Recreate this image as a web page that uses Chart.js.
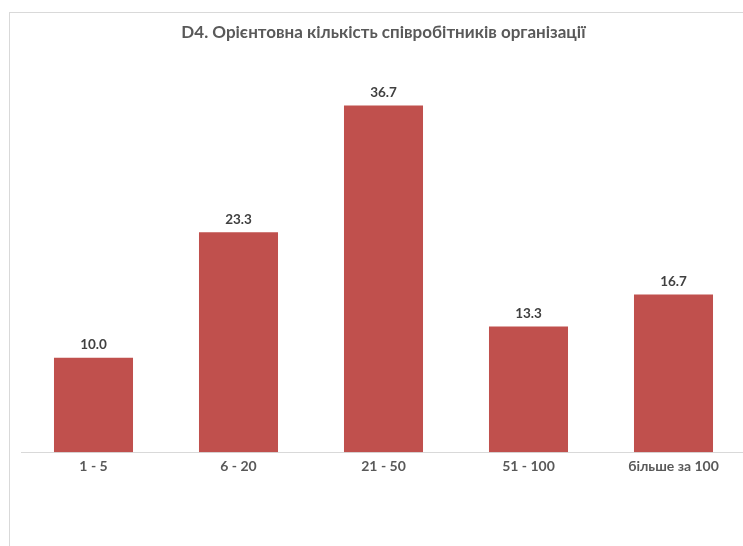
<!DOCTYPE html>
<html>
<head>
<meta charset="utf-8">
<script src="https://cdn.jsdelivr.net/npm/chart.js@4.4.0/dist/chart.umd.min.js"></script>
<style>
    html, body { margin: 0; padding: 0; background: #fff; overflow: hidden; width: 743px; height: 546px; }
    #ramka {
        position: absolute; left: 9px; top: 12px; width: 760px; height: 560px;
        border-top: 1px solid #d9d9d9; border-left: 1px solid #d9d9d9;
    }
    #wrap { position: absolute; left: 0; top: 0; width: 746px; height: 533px; }
</style>
</head>
<body>
<div id="ramka">
    <div id="wrap"><canvas id="grafico1"></canvas></div>
</div>
<script>
// categorias e valores (%)
const categorias = ["1 - 5", "6 - 20", "21 - 50", "51 - 100", "більше за 100"];
const valores = [10.0, 23.3, 36.7, 13.3, 16.7];
const titulo = "D4. Орієнтовна кількість співробітників організації";

// rotulos em cima das barras
const rotulos = {
    id: 'rotulos',
    afterDatasetsDraw(chart) {
        const ctx = chart.ctx;
        const meta = chart.getDatasetMeta(0);
        ctx.save();
        ctx.font = 'bold 13.5px Lato';
        ctx.fillStyle = '#404040';
        ctx.textAlign = 'center';
        ctx.textBaseline = 'bottom';
        meta.data.forEach(function (bar, i) {
            ctx.fillText(valores[i].toFixed(1), bar.x, bar.y - 6);
        });
        ctx.restore();
    }
};

const grafico1 = document.getElementById("grafico1");

const config_grafico1 = {
    type: 'bar',
    data: {
        labels: categorias,
        datasets: [{
            data: valores,
            backgroundColor: '#C0504D',
            borderWidth: 0,
            categoryPercentage: 1,
            barPercentage: 0.545
        }]
    },
    options: {
        responsive: true,
        maintainAspectRatio: false,
        animation: false,
        layout: { padding: { left: 11, right: 10, top: 0, bottom: 65 } },
        scales: {
            y: {
                display: false,
                min: 0,
                max: 40
            },
            x: {
                grid: { display: false, drawTicks: false },
                border: { display: true, color: '#d9d9d9', width: 1 },
                ticks: {
                    color: '#595959',
                    padding: 6,
                    font: { size: 14, family: 'Lato', weight: 'bold' }
                }
            }
        },
        plugins: {
            legend: { display: false },
            tooltip: { enabled: false },
            title: {
                display: true,
                text: titulo,
                color: '#595959',
                padding: { top: 9, bottom: 32 },
                font: { size: 17, family: 'Lato', weight: 'bold' }
            }
        }
    },
    plugins: [rotulos]
};

const grafico_1 = new Chart(grafico1, config_grafico1);
</script>
</body>
</html>
